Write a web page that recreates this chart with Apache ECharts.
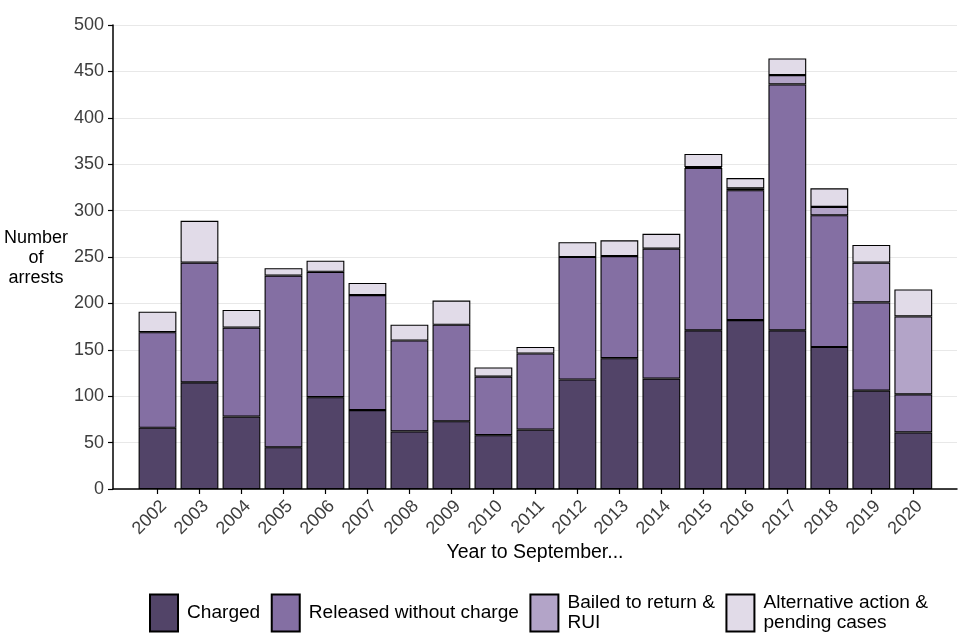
<!DOCTYPE html>
<html>
<head>
<meta charset="utf-8">
<script src="https://cdn.jsdelivr.net/npm/echarts@6/dist/echarts.min.js"></script>
<style>html,body{margin:0;padding:0;background:#fff;}#c{width:960px;height:640px;}</style>
</head>
<body>
<div id="c"></div>
<script>
const years = ['2002','2003','2004','2005','2006','2007','2008','2009','2010','2011','2012','2013','2014','2015','2016','2017','2018','2019','2020'];
const charged  = [66,115,78,45,99,85,62,73,58,64,118,141,119,171,182,171,153,106,61];
const released = [103,129,96,185,135,124,98,104,63,82,132,110,140,175,140,265,142,95,41];
const bailed   = [0,0,0,0,0,0,0,0,0,0,0,0,0,1,2,10,9,43,84];
const altPend  = [22,45,19,8,12,13,17,26,10,7,16,17,16,14,11,18,20,19,29];
const yTicks = {min:0, max:500, interval:50};

const seriesNames = ['Charged','Released without charge','Bailed to return & RUI','Alternative action & pending cases'];
const legendLabels = {
  'Charged':'Charged',
  'Released without charge':'Released without charge',
  'Bailed to return & RUI':'Bailed to return &\nRUI',
  'Alternative action & pending cases':'Alternative action &\npending cases'
};
const colors = ['#524468','#846FA3','#B3A4C8','#E1DBE8'];
const dataSets = [charged, released, bailed, altPend];

const font = 'Liberation Sans, Arial, sans-serif';
const chart = echarts.init(document.getElementById('c'));
chart.setOption({
  animation:false,
  backgroundColor:'#fff',
  textStyle:{fontFamily:font},
  grid:[
    {left:113, right:3, top:25, bottom:151},
    {left:136.5, right:25.7, top:25, bottom:151}
  ],
  xAxis:[
    {gridIndex:0, type:'value', min:0, max:1, axisLine:{show:true, onZero:false, lineStyle:{color:'#000', width:1.5}},
     axisTick:{show:false}, axisLabel:{show:false}, splitLine:{show:false}},
    {gridIndex:1, type:'category', data:years, axisLine:{show:false},
     axisTick:{show:true, alignWithLabel:true, length:5, lineStyle:{color:'#000', width:1.2}},
     axisLabel:{rotate:45, fontSize:18, color:'#3d3d3d', margin:8, verticalAlign:'top', fontFamily:font}}
  ],
  yAxis:[
    {gridIndex:0, type:'value', min:yTicks.min, max:yTicks.max, interval:yTicks.interval,
     axisLine:{show:true, lineStyle:{color:'#000', width:1.5}},
     axisTick:{show:true, length:5, lineStyle:{color:'#000', width:1.2}},
     axisLabel:{fontSize:18, color:'#3d3d3d', margin:9, fontFamily:font},
     splitLine:{show:true, lineStyle:{color:'#e8e8e8', width:1.2}}},
    {gridIndex:1, type:'value', min:yTicks.min, max:yTicks.max, interval:yTicks.interval, show:false}
  ],
  legend:{
    left:149, top:593, padding:0, orient:'horizontal', icon:'rect', itemWidth:28, itemHeight:37, itemGap:10.5,
    data:seriesNames,
    formatter:function(n){return legendLabels[n];},
    textStyle:{fontSize:19.1, color:'#000', lineHeight:20, padding:[0,0,0,4], fontFamily:font}
  },
  graphic:[
    {type:'text', x:36, y:258, style:{text:'Number\nof\narrests', font:'18px '+font, fill:'#000', align:'center', verticalAlign:'middle', lineHeight:20}},
    {type:'text', x:535, y:553, style:{text:'Year to September...', font:'19.5px '+font, fill:'#000', align:'center', verticalAlign:'middle'}}
  ],
  series: seriesNames.map(function(n,i){
    return {
      name:n, type:'bar', stack:'total', xAxisIndex:1, yAxisIndex:1,
      barCategoryGap:'10%',
      data:dataSets[i].map(function(v){return v === 0 ? '-' : v;}),
      itemStyle:{color:colors[i], borderColor:'#000', borderWidth:1.1},
      emphasis:{disabled:true}
    };
  })
});
</script>
</body>
</html>
